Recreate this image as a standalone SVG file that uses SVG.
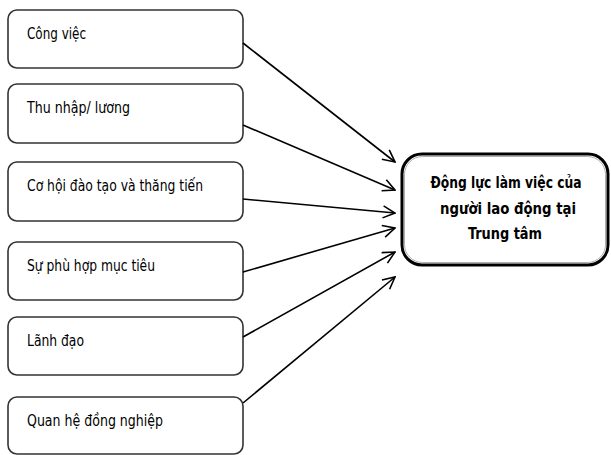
<svg xmlns="http://www.w3.org/2000/svg" width="611" height="455" viewBox="0 0 611 455">
<style>
.box{fill:#fff;stroke:#333;stroke-width:1.6}
.lbl{font-family:"DejaVu Sans Condensed","Liberation Sans Narrow","Liberation Sans",sans-serif;font-size:16.5px;fill:#000}
.main{font-family:"DejaVu Sans Condensed","Liberation Sans Narrow","Liberation Sans",sans-serif;font-size:16px;font-weight:bold;fill:#000;text-anchor:middle}
.con line{stroke:#000;stroke-width:1.6;fill:none}
</style>
<defs>
<marker id="arr" viewBox="0 0 14 14" refX="13" refY="7" markerWidth="14" markerHeight="14" markerUnits="userSpaceOnUse" orient="auto">
<polyline points="1,1 13,7 1,13" fill="none" stroke="#000" stroke-width="1.6"/>
</marker>
</defs>
<rect width="611" height="455" fill="#fff"/>
<g id="n1"><rect class="box" x="8" y="10" width="235" height="58" rx="9"/><text class="lbl" x="27" y="39" textLength="59" lengthAdjust="spacingAndGlyphs">Công việc</text></g>
<g id="n2"><rect class="box" x="8" y="84" width="235" height="59" rx="9"/><text class="lbl" x="27" y="113" textLength="103" lengthAdjust="spacingAndGlyphs">Thu nhập/ lương</text></g>
<g id="n3"><rect class="box" x="8" y="162" width="235" height="59" rx="9"/><text class="lbl" x="27" y="191" textLength="176" lengthAdjust="spacingAndGlyphs">Cơ hội đào tạo và thăng tiến</text></g>
<g id="n4"><rect class="box" x="8" y="242" width="235" height="58" rx="9"/><text class="lbl" x="27" y="271" textLength="128" lengthAdjust="spacingAndGlyphs">Sự phù hợp mục tiêu</text></g>
<g id="n5"><rect class="box" x="8" y="317" width="235" height="58" rx="9"/><text class="lbl" x="27" y="346" textLength="57" lengthAdjust="spacingAndGlyphs">Lãnh đạo</text></g>
<g id="n6"><rect class="box" x="8" y="397" width="235" height="57" rx="9"/><text class="lbl" x="27" y="426" textLength="136" lengthAdjust="spacingAndGlyphs">Quan hệ đồng nghiệp</text></g>
<g id="target">
<rect x="402" y="154" width="206" height="111" rx="20" fill="#fff" stroke="#000" stroke-width="3"/>
<rect x="404.5" y="156.5" width="201" height="106" rx="18" fill="none" stroke="#999" stroke-width="0.8"/>
<text class="main" x="506" y="188" textLength="151" lengthAdjust="spacingAndGlyphs">Động lực làm việc của</text>
<text class="main" x="508" y="214" textLength="136" lengthAdjust="spacingAndGlyphs">người lao động tại</text>
<text class="main" x="505" y="239" textLength="74" lengthAdjust="spacingAndGlyphs">Trung tâm</text>
</g>
<g class="con" id="connectors">
<line x1="243" y1="43" x2="395" y2="162" marker-end="url(#arr)"/>
<line x1="243" y1="125" x2="395" y2="190" marker-end="url(#arr)"/>
<line x1="243" y1="199" x2="395" y2="213" marker-end="url(#arr)"/>
<line x1="243" y1="272" x2="395" y2="228" marker-end="url(#arr)"/>
<line x1="243" y1="337" x2="395" y2="252" marker-end="url(#arr)"/>
<line x1="243" y1="403" x2="395" y2="277" marker-end="url(#arr)"/>
</g>
</svg>
